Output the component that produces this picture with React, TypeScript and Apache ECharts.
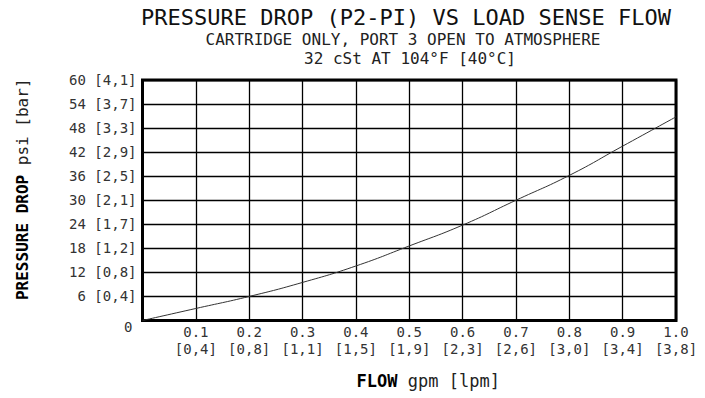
import React, { useEffect, useRef } from "react";
import * as echarts from "echarts";

const flowGpm = [0, 0.1, 0.2, 0.3, 0.4, 0.5, 0.6, 0.7, 0.8, 0.9, 1.0];
const pressurePsi = [0, 3.0, 6.0, 9.5, 13.6, 18.6, 23.8, 30.0, 36.2, 43.5, 50.8];

const xTickGpm = ["0.1", "0.2", "0.3", "0.4", "0.5", "0.6", "0.7", "0.8", "0.9", "1.0"];
const xTickLpm = ["0,4", "0,8", "1,1", "1,5", "1,9", "2,3", "2,6", "3,0", "3,4", "3,8"];
const yTickPsi = ["6", "12", "18", "24", "30", "36", "42", "48", "54", "60"];
const yTickBar = ["0,4", "0,8", "1,2", "1,7", "2,1", "2,5", "2,9", "3,3", "3,7", "4,1"];

const titleLines = [
  "PRESSURE DROP (P2-PI) VS LOAD SENSE FLOW",
  "CARTRIDGE ONLY, PORT 3 OPEN TO ATMOSPHERE",
  "32 cSt AT 104°F [40°C]",
];

const MONO = "'DejaVu Sans Mono', 'Liberation Mono', monospace";

export default function App() {
  const ref = useRef<HTMLDivElement>(null);
  useEffect(() => {
    if (!ref.current) return;
    const chart = echarts.init(ref.current, null, { renderer: "svg" });
    chart.setOption({
      animation: false,
      backgroundColor: "#fff",
      grid: {
        left: 142.5,
        right: 29,
        top: 80,
        bottom: 77.5,
        show: true,
        borderColor: "#000",
        borderWidth: 3,
        backgroundColor: "transparent",
      },
      graphic: [
        {
          type: "text",
          x: 406,
          y: 17,
          style: { text: titleLines[0], align: "center", verticalAlign: "middle", font: `22px ${MONO}`, fill: "#111" },
        },
        {
          type: "text",
          x: 403,
          y: 39.5,
          style: { text: titleLines[1], align: "center", verticalAlign: "middle", font: `16px ${MONO}`, fill: "#222" },
        },
        {
          type: "text",
          x: 410,
          y: 58.5,
          style: { text: titleLines[2], align: "center", verticalAlign: "middle", font: `16px ${MONO}`, fill: "#222" },
        },
      ],
      xAxis: {
        type: "value",
        min: 0,
        max: 1,
        interval: 0.1,
        name: "{b|FLOW}{n| gpm [lpm]}",
        nameLocation: "middle",
        nameGap: 52,
        nameTextStyle: {
          padding: [0, 0, 0, 38],
          rich: {
            b: { fontFamily: MONO, fontSize: 17, fontWeight: "bold", color: "#000" },
            n: { fontFamily: MONO, fontSize: 17, color: "#222" },
          },
        },
        axisLine: { show: false },
        axisTick: { show: false },
        splitLine: { show: true, lineStyle: { color: "#000", width: 1.3 } },
        axisLabel: {
          margin: 3,
          fontFamily: MONO,
          fontSize: 14,
          color: "#333",
          lineHeight: 17,
          showMinLabel: true,
          formatter: (v: number) => {
            const i = Math.round(v * 10);
            if (i === 0) return "";
            return xTickGpm[i - 1] + "\n[" + xTickLpm[i - 1] + "]";
          },
        },
      },
      yAxis: {
        type: "value",
        min: 0,
        max: 60,
        interval: 6,
        name: "{b|PRESSURE DROP}{n| psi [bar]}",
        nameLocation: "middle",
        nameGap: 112,
        nameRotate: 90,
        nameTextStyle: {
          padding: [0, 0, 0, 22],
          rich: {
            b: { fontFamily: MONO, fontSize: 16, fontWeight: "bold", color: "#000" },
            n: { fontFamily: MONO, fontSize: 16, color: "#222" },
          },
        },
        axisLine: { show: false },
        axisTick: { show: false },
        splitLine: { show: true, lineStyle: { color: "#000", width: 1.3 } },
        axisLabel: {
          margin: 6,
          fontFamily: MONO,
          fontSize: 14,
          color: "#333",
          formatter: (v: number) => {
            const i = Math.round(v / 6);
            if (i === 0) return "{z|0}";
            return yTickPsi[i - 1].padStart(2, " ") + " [" + yTickBar[i - 1] + "]";
          },
          rich: {
            z: { fontFamily: MONO, fontSize: 14, color: "#333", padding: [12, 4, 0, 0] },
          },
        },
      },
      series: [
        {
          type: "line",
          data: flowGpm.map((x, i) => [x, pressurePsi[i]]),
          smooth: true,
          showSymbol: false,
          lineStyle: { color: "#333", width: 1 },
          z: 5,
        },
      ],
    });
    return () => chart.dispose();
  }, []);
  return (
    <div
      ref={ref}
      style={{ position: "fixed", left: 0, top: 0, width: 705, height: 398 }}
    />
  );
}
